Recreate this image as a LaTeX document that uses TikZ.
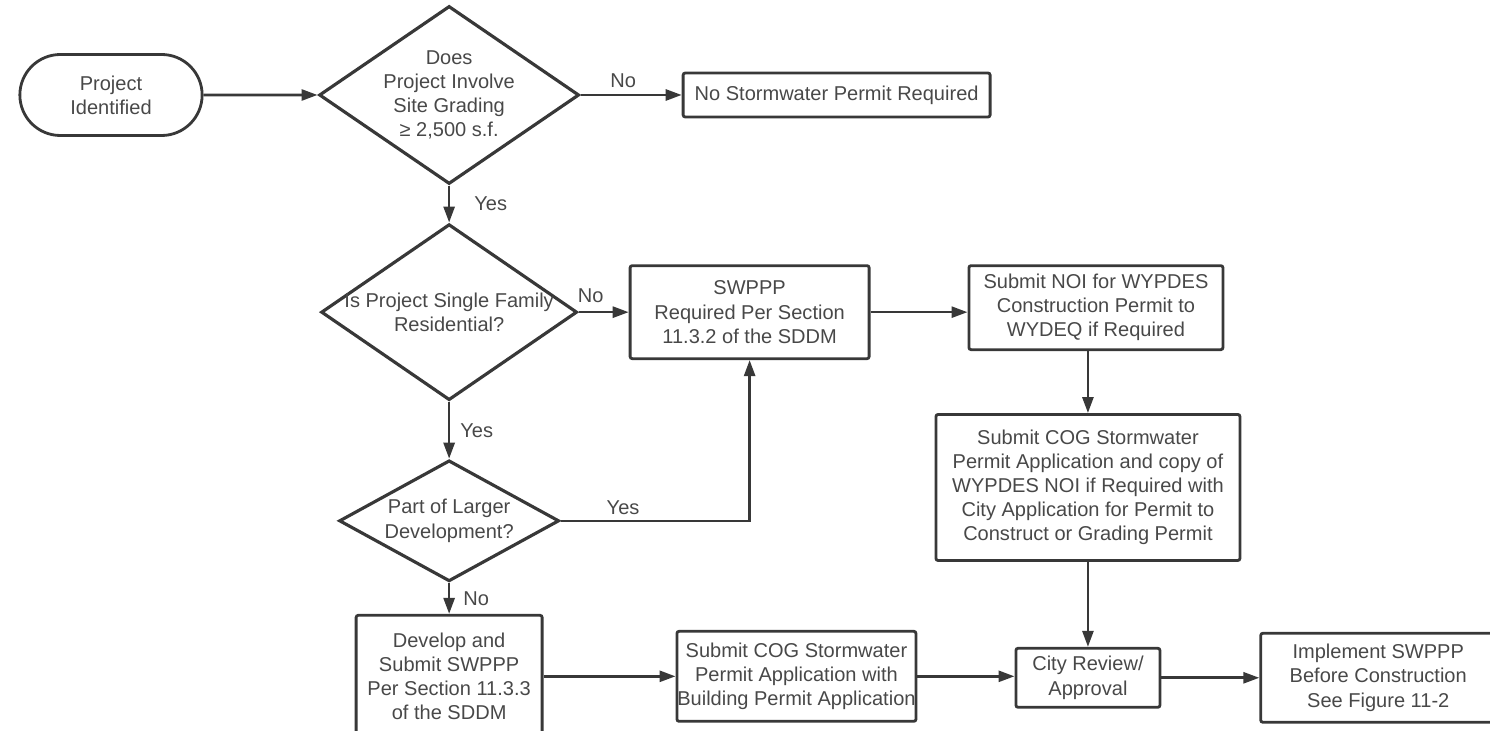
\documentclass[tikz,border=0pt]{standalone}
\usepackage{fontspec}
\setmainfont{Liberation Sans}
\usepackage{tikz}
\usetikzlibrary{positioning,shapes.geometric,shapes.misc,arrows.meta}

\definecolor{inkline}{HTML}{383838}
\definecolor{inktext}{HTML}{484848}

\begin{document}
\begin{tikzpicture}[
    every node/.style={font=\fontsize{11.4}{13.7}\selectfont, text=inktext},
    terminal/.style={rounded rectangle, draw=inkline, line width=1.6pt, align=center,
      minimum width=3.88cm, minimum height=1.62cm},
    process/.style={rectangle, draw=inkline, line width=1.6pt, rounded corners=1.2pt,
      align=center, inner sep=0pt},
    decision/.style={diamond, draw=inkline, line width=1.8pt, align=center},
    flow/.style={draw=inkline, line width=1.5pt, -{Triangle[length=3.2mm,width=2.2mm]}},
    answer/.style={inner sep=0pt}]

  \useasboundingbox (0,0) rectangle (29.8,-14.62);

  % Define nodes
  \node[terminal] (start) at (2.22,-1.9) {Project\\Identified};

  \node[decision, right=2.28cm of start, minimum width=5.2cm, minimum height=3.56cm,
    shape aspect=1.46, inner sep=-0.7pt] (grading) {Does\\Project Involve\\Site Grading\\≥ 2,500 s.f.};
  \node[process, right=2.02cm of grading, minimum width=6.14cm, minimum height=0.88cm] (nopermit) {No Stormwater Permit Required};

  \node[decision, below=0.74cm of grading, minimum width=5.12cm, minimum height=3.52cm,
    shape aspect=1.455, inner sep=-2.1pt] (single) {Is Project Single Family\\Residential?};
  \node[process, right=1.0cm of single, minimum width=4.78cm, minimum height=1.86cm] (swppp) {SWPPP\\Required Per Section\\11.3.2 of the SDDM};
  \node[process, right=1.94cm of swppp, yshift=0.09cm, minimum width=5.08cm, minimum height=1.68cm] (noi) {Submit NOI for WYPDES\\Construction Permit to\\WYDEQ if Required};
  \node[process, below=1.24cm of noi, xshift=-0.16cm, minimum width=6.08cm, minimum height=2.92cm] (cogcity) {Submit COG Stormwater\\Permit Application and copy of\\WYPDES NOI if Required with\\City Application for Permit to\\Construct or Grading Permit};

  \node[decision, below=1.14cm of single, minimum width=4.4cm, minimum height=2.42cm,
    shape aspect=1.82, inner sep=1pt] (larger) {Part of Larger\\Development?};
  \node[process, below=0.62cm of larger, minimum width=3.72cm, minimum height=2.44cm] (develop) {Develop and\\Submit SWPPP\\Per Section 11.3.3\\of the SDDM};
  \node[process, right=2.64cm of develop, minimum width=4.78cm, minimum height=1.8cm] (cogbldg) {Submit COG Stormwater\\Permit Application with\\Building Permit Application};

  \node[process, below=1.7cm of cogcity, minimum width=2.88cm, minimum height=1.18cm] (review) {City Review/\\Approval};
  \node[process, right=1.96cm of review, minimum width=4.7cm, minimum height=1.78cm] (implement) {Implement SWPPP\\Before Construction\\See Figure 11-2};

  % Connectors
  \draw[flow] (start) -- (grading);
  \draw[flow] (grading) -- node[answer, above=0.12cm, pos=0.42] {No} (nopermit);
  \draw[flow] (grading) -- node[answer, right=0.48cm] {Yes} (single);
  \draw[flow] (single) -- node[answer, above=0.16cm, pos=0.24] {No} (swppp);
  \draw[flow] (swppp.east) -- (swppp.east -| noi.west);
  \draw[flow] (cogcity.north |- noi.south) -- (cogcity.north);
  \draw[flow] (cogcity) -- (review);
  \draw[flow] (review) -- (implement);

  \draw[flow] (single) -- node[answer, right=0.2cm] {Yes} (larger);
  \draw[flow] (larger.east) -- node[answer, above=0.1cm, pos=0.33] {Yes} (larger.east -| swppp.south) -- (swppp.south);
  \draw[flow] (larger) -- node[answer, right=0.26cm] {No} (develop);
  \draw[flow] (develop) -- (cogbldg);
  \draw[flow] (cogbldg.east) -- (cogbldg.east -| review.west);

\end{tikzpicture}
\end{document}
